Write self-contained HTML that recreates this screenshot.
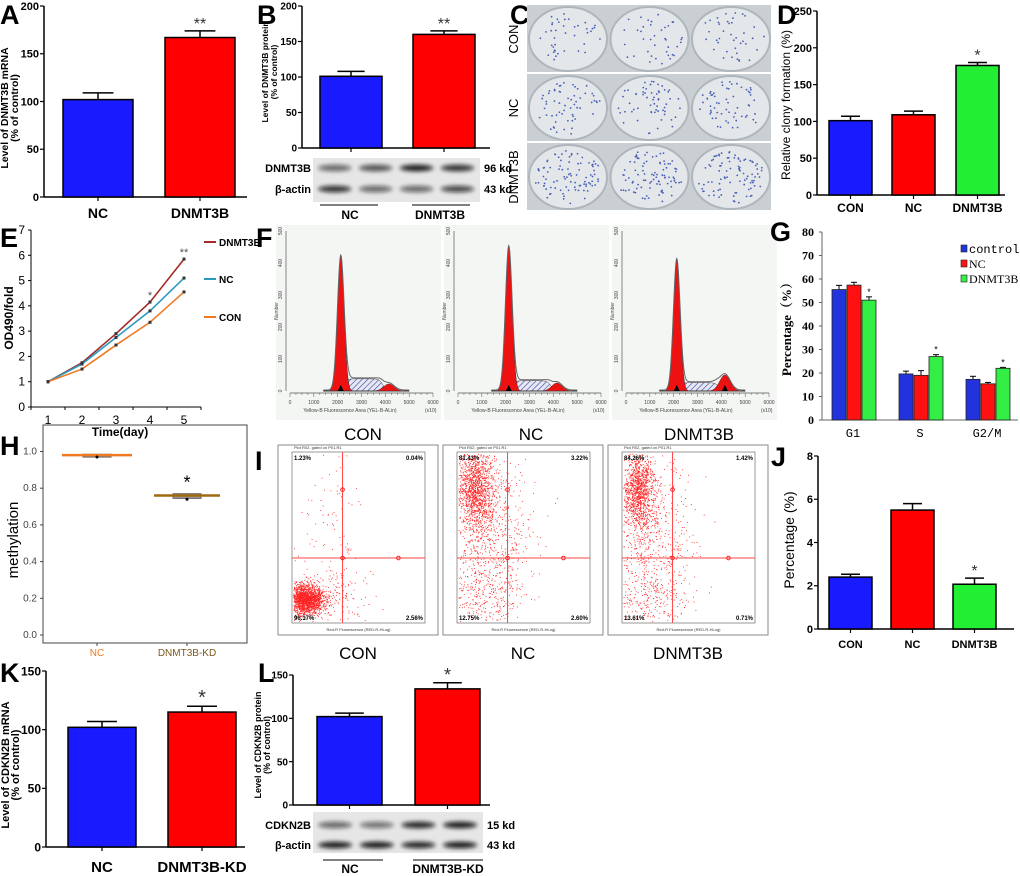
<!DOCTYPE html>
<html><head><meta charset="utf-8"><style>
html,body{margin:0;padding:0;background:#fff;width:1020px;height:876px;overflow:hidden}
svg{display:block;font-family:"Liberation Sans",sans-serif}
</style></head><body>
<svg id="fig" width="1020" height="876" viewBox="0 0 1020 876" xmlns="http://www.w3.org/2000/svg">
<defs>
<filter id="blur" x="-20%" y="-100%" width="140%" height="300%"><feGaussianBlur stdDeviation="2"/></filter>
<pattern id="hatch" width="4" height="4" patternUnits="userSpaceOnUse" patternTransform="rotate(45)"><rect width="4" height="4" fill="#e6e8f4"/><line x1="0" y1="0" x2="0" y2="4" stroke="#3b3f9c" stroke-width="1.2"/></pattern>
</defs>
</svg>
<script>
// ---- data ----
const aCats=["NC","DNMT3B"], aVals=[102,167], aErrs=[7,7], aStars=["","**"];
const bVals=[101,160], bErrs=[7,5], bStars=["","**"];
const dCats=["CON","NC","DNMT3B"], dVals=[101,109,176], dErrs=[6,5,4], dStars=["","","*"];
const eDays=[1,2,3,4,5];
const eDNMT3B=[1,1.75,2.9,4.15,5.85];
const eNC=[1,1.7,2.75,3.8,5.1];
const eCON=[1,1.5,2.45,3.35,4.55];
const gPhases=["G1","S","G2/M"];
const gControl=[55.5,19.6,17.3], gNC=[57.4,19,15.4], gDNMT3B=[51,27,22];
const gErrC=[1.8,1.2,1.3], gErrN=[1.2,2,0.6], gErrD=[1.4,0.8,0.4];
const hCats=["NC","DNMT3B-KD"], hMed=[0.98,0.76], hQ1=[0.975,0.75], hQ3=[0.985,0.77], hOut=[0.97,0.74];
const jCats=["CON","NC","DNMT3B"], jVals=[2.4,5.5,2.07], jErrs=[0.13,0.3,0.28], jStars=["","","*"];
const kCats=["NC","DNMT3B-KD"], kVals=[102,115], kErrs=[5,5], kStars=["","*"];
const lVals=[102,134], lErrs=[4,7], lStars=["","*"];
const fG1=[420,450,410], fG2=[22,25,50], fS=[38,32,26];
const iQuad=[["1.23%","0.04%","96.17%","2.56%"],["81.43%","3.22%","12.75%","2.60%"],["84.26%","1.42%","13.61%","0.71%"]];

const NS="http://www.w3.org/2000/svg";
const svg=document.getElementById('fig');
function mk(tag,attrs,parent){const e=document.createElementNS(NS,tag);for(const k in attrs)e.setAttribute(k,attrs[k]);(parent||svg).appendChild(e);return e;}
function txt(x,y,s,a,parent){const t=mk('text',Object.assign({x:x,y:y},a||{}),parent);t.textContent=s;return t;}
function grp(name){const g=mk('g',{});


return g;}

function panelLabel(ch,x,y){const t=txt(x,y,ch,{'font-size':27,'font-weight':'bold'});

}

function barChart(p){
 const g=grp(p.name);
 const sy=v=>p.y0-(v/p.max)*(p.y0-p.yTop);
 const ax=mk('line',{x1:p.ax,y1:p.yTop,x2:p.ax,y2:p.y0,stroke:'#000','stroke-width':1.5},g);
 
 
 const bx=mk('line',{x1:p.ax,y1:p.y0,x2:p.x1,y2:p.y0,stroke:'#000','stroke-width':1.5},g);
 
 
 p.ticks.forEach(t=>{const y=sy(t);
  mk('line',{x1:p.ax-4,y1:y,x2:p.ax,y2:y,stroke:'#000','stroke-width':1.2},g);
  const l=txt(p.ax-5,y+p.ts*0.36,String(t),{'font-size':p.ts,'font-weight':'bold','text-anchor':'end'},g);
  
  });
 p.vals.forEach((v,i)=>{const x=p.barX[i],w=p.barW,cx=x+w/2,y=sy(v),ye=sy(v+p.errs[i]);
  mk('line',{x1:cx,y1:y,x2:cx,y2:ye,stroke:'#000','stroke-width':1.5},g);
  mk('line',{x1:cx-w*0.22,y1:ye,x2:cx+w*0.22,y2:ye,stroke:'#000','stroke-width':1.5},g);
  const r=mk('rect',{x:x,y:y,width:w,height:p.y0-y,fill:p.colors[i],stroke:'#000','stroke-width':1.5},g);
  
  
  mk('line',{x1:cx,y1:p.y0,x2:cx,y2:p.y0+4,stroke:'#000','stroke-width':1.2},g);
  if(p.stars[i]){const s=txt(cx,ye-2,p.stars[i],{'font-size':p.ss||16,'text-anchor':'middle',fill:'#333'},g);
   
   }
  if(p.cats){const c=txt(cx,p.labelY,p.cats[i],{'font-size':p.ls,'font-weight':'bold','text-anchor':'middle'},g);
   
   }
 });
 p.title.forEach((s,k)=>{const tx=p.titleX+k*p.titleLH;
  const t=txt(tx,p.titleY,s,{'font-size':p.tsz,'font-weight':p.tw||'bold','text-anchor':'middle',transform:`rotate(-90 ${tx} ${p.titleY})`},g);
  
  });
}
const BL='#1a1aff',RD='#ff0000',GR='#22ee33';
// A
panelLabel('A',0,24);
barChart({name:'panel-a-chart',ax:44,x1:247,y0:197,yTop:6,max:200,ticks:[0,50,100,150,200],ts:11,vals:aVals,errs:aErrs,stars:aStars,cats:aCats,barX:[63,165],barW:70,colors:[BL,RD],labelY:218,ls:14,title:['Level of DNMT3B mRNA','(% of control)'],titleX:8,titleLH:10,titleY:108,tsz:10.5});
// B
panelLabel('B',257,24);
barChart({name:'panel-b-chart',ax:302,x1:490,y0:148,yTop:6,max:200,ticks:[0,50,100,150,200],ts:10,vals:bVals,errs:bErrs,stars:bStars,barX:[320,413],barW:62,colors:[BL,RD],title:['Level of DNMT3B protein','(% of control)'],titleX:268,titleLH:9,titleY:72,tsz:8.5});
function blot(name,x,y,w,h,rows,kd,strengths,ys){
 const g=grp(name);
 mk('rect',{x:x,y:y,width:w,height:h,fill:'#e6e6e6'},g);
 rows.forEach((r,ri)=>{
  const l=txt(x-2,ys[ri]+4,r,{'font-size':11,'font-weight':'bold','text-anchor':'end'},g);
  
  
  const k=txt(x+w+4,ys[ri]+4,kd[ri],{'font-size':11,'font-weight':'bold'},g);
  
  
  for(let j=0;j<4;j++){const cx=x+w*(0.13+0.245*j);
   const b=mk('ellipse',{cx:cx,cy:ys[ri],rx:w*0.1,ry:3.2,fill:'#111','fill-opacity':strengths[ri][j],filter:'url(#blur)'},g);
   
   }
 });
}
blot('panel-b-blot',313,158,167,44,['DNMT3B','β-actin'],['96 kd','43 kd'],[[0.6,0.7,0.95,0.85],[0.85,0.6,0.6,0.75]],[168,189]);
mk('line',{x1:320,y1:205,x2:378,y2:205,stroke:'#000'});mk('line',{x1:412,y1:205,x2:470,y2:205,stroke:'#000'});
[['NC',350],['DNMT3B',440]].forEach(a=>{const t=txt(a[1],219,a[0],{'font-size':12,'font-weight':'bold','text-anchor':'middle'});
 
 });
// C photos
panelLabel('C',510,24);
(function(){const g=grp('panel-c-colony-photos');let s=7;const rnd=()=>{s=(s*16807)%2147483647;return s/2147483647;};
 const rowsN=['CON','NC','DNMT3B'],dens=[40,60,90];
 for(let r=0;r<3;r++){const y=5+r*69;
  mk('rect',{x:527,y:y,width:244,height:67,fill:'#c9cfd3'},g);
  const lt=txt(518,y+34,rowsN[r],{'font-size':13,'text-anchor':'middle',transform:`rotate(-90 518 ${y+34})`},g);
  
  
  for(let c=0;c<3;c++){const cx=527+41+c*81.5,cy=y+34;
   const d=mk('ellipse',{cx:cx,cy:cy,rx:39,ry:32,fill:'#e3e7ea',stroke:'#aeb6bc','stroke-width':2},g);
   
   
   for(let k=0;k<dens[r];k++){const a=rnd()*6.283,rr=Math.sqrt(rnd())*0.9;
    mk('circle',{cx:cx+Math.cos(a)*rr*37,cy:cy+Math.sin(a)*rr*30,r:0.9,fill:'#4a5fb8'},g);}
  }}})();
// D
panelLabel('D',777,24);
barChart({name:'panel-d-chart',ax:817,x1:1005,y0:195,yTop:11,max:250,ticks:[0,50,100,150,200,250],ts:11,vals:dVals,errs:dErrs,stars:dStars,cats:dCats,barX:[829,892,956],barW:43,colors:[BL,RD,GR],labelY:212,ls:12,title:['Relative clony formation  (%)'],titleX:790,titleLH:0,titleY:105,tsz:12,tw:'normal'});
// E
panelLabel('E',0,247);
(function(){const g=grp('panel-e-line-chart');const ax=31,y0=407,yTop=230,ymax=7;
 const sx=d=>48+(d-1)*34, sy=v=>y0-v/ymax*(y0-yTop);
 mk('line',{x1:ax,y1:yTop,x2:ax,y2:y0,stroke:'#000'},g);mk('line',{x1:ax,y1:y0,x2:201,y2:y0,stroke:'#000'},g);
 for(let v=0;v<=7;v++){mk('line',{x1:ax-3,y1:sy(v),x2:ax,y2:sy(v),stroke:'#000'},g);
  const t=txt(ax-6,sy(v)+4,String(v),{'font-size':12,'text-anchor':'end'},g);
  
  }
 for(let x=48-17;x<=201;x+=34)mk('line',{x1:x,y1:y0,x2:x,y2:y0+3,stroke:'#000'},g);
 eDays.forEach(d=>{const t=txt(sx(d),y0+17,String(d),{'font-size':12,'text-anchor':'middle'},g);
  
  });
 const xt=txt(120,y0+29,'Time(day)',{'font-size':12,'font-weight':'bold','text-anchor':'middle'},g);
 
 
 const yt=txt(13,318,'OD490/fold',{'font-size':12,'font-weight':'bold','text-anchor':'middle',transform:'rotate(-90 13 318)'},g);
 
 
 const series=[['DNMT3B',eDNMT3B,'#a52a2a',242],['NC',eNC,'#2a9bbf',279],['CON',eCON,'#f07820',317]];
 series.forEach(s=>{const pl=mk('polyline',{points:s[1].map((v,i)=>sx(eDays[i])+','+sy(v)).join(' '),fill:'none',stroke:s[2],'stroke-width':1.6},g);
  
  
  s[1].forEach((v,i)=>mk('rect',{x:sx(eDays[i])-1.5,y:sy(v)-1.5,width:3,height:3,fill:'#333'},g));
  mk('line',{x1:204,y1:s[3],x2:216,y2:s[3],stroke:s[2],'stroke-width':2},g);
  const lt=txt(219,s[3]+4,s[0],{'font-size':10,'font-weight':'bold'},g);
  
  });
 txt(sx(4),sy(eDNMT3B[3])-3,'*',{'font-size':11,'text-anchor':'middle',fill:'#555'},g);
 txt(sx(5),sy(eDNMT3B[4])-3,'**',{'font-size':11,'text-anchor':'middle',fill:'#555'},g);
})();
// F histograms
panelLabel('F',256,247);
(function(){const names=['CON','NC','DNMT3B'];
 names.forEach((nm,pi)=>{const g=grp('flow-histogram-'+nm.toLowerCase());const ax=290+pi*168,base=391,top=231;
  const sx=c=>ax+c/6000*143, sy=v=>base-v/500*(base-top);
  mk('rect',{x:ax-14,y:top-6,width:165,height:195,fill:'#f4f6f4'},g);
  mk('line',{x1:ax-4,y1:top,x2:ax-4,y2:base,stroke:'#555','stroke-width':0.7},g);
  mk('line',{x1:ax,y1:base+2,x2:ax+143,y2:base+2,stroke:'#555','stroke-width':0.7},g);
  for(let c=0;c<=6000;c+=250)mk('line',{x1:sx(c),y1:base+2,x2:sx(c),y2:base+(c%1000?4:6),stroke:'#555','stroke-width':0.5},g);
  for(let c=0;c<=6000;c+=1000)txt(sx(c),base+13,String(c),{'font-size':5,'text-anchor':'middle',fill:'#444'},g);
  for(let v=0;v<=500;v+=100)txt(ax-8,sy(v),String(v),{'font-size':5,'text-anchor':'middle',fill:'#444',transform:`rotate(-90 ${ax-8} ${sy(v)})`},g);
  txt(ax+60,base+21,'Yellow-B Fluorescence Area (YEL-B-ALin)',{'font-size':5,'text-anchor':'middle',fill:'#444'},g);
  txt(ax+135,base+21,'(x10)',{'font-size':5,fill:'#444'},g);
  txt(ax-12,top+80,'Number',{'font-size':5,'text-anchor':'middle',fill:'#444',transform:`rotate(-90 ${ax-12} ${top+80})`},g);
  const gs=(c,m,sd)=>Math.exp(-0.5*((c-m)/sd)**2);
  let p1='',p2='',pt='',ps='';
  for(let c=1400;c<=5000;c+=25){const g1=fG1[pi]*gs(c,2130,140),g2=fG2[pi]*gs(c,4150,220);
   const sp=fS[pi]*(1/(1+Math.exp(-(c-2300)/60)))*(1/(1+Math.exp((c-3900)/80)));
   p1+=(p1?'L':'M')+sx(c)+','+sy(g1);p2+=(p2?'L':'M')+sx(c)+','+sy(g2);
   ps+=(ps?'L':'M')+sx(c)+','+sy(sp);pt+=(pt?'L':'M')+sx(c)+','+sy(g1+g2+sp+3);}
  const hs=mk('path',{d:ps+'Z',fill:'url(#hatch)',stroke:'#333','stroke-width':0.5},g);
  
  
  const r1=mk('path',{d:p1+'Z',fill:'#ee1111',stroke:'#333','stroke-width':0.5},g);
  
  
  const r2=mk('path',{d:p2+'Z',fill:'#ee1111',stroke:'#333','stroke-width':0.5},g);
  
  
  mk('path',{d:pt,fill:'none',stroke:'#666','stroke-width':1},g);
  mk('path',{d:`M${sx(2130)-3},${base}l3,-6l3,6z`,fill:'#000'},g);
  if(pi==2)mk('path',{d:`M${sx(4150)-3},${base}l3,-6l3,6z`,fill:'#000'},g);
  const lb=txt(ax+73,440,nm,{'font-size':17,'text-anchor':'middle'},g);
  
  
 });})();
// G grouped bars
panelLabel('G',770,241);
(function(){const g=grp('panel-g-chart');const ax=822,y0=420,yTop=232,max=80;const sy=v=>y0-v/max*(y0-yTop);
 mk('line',{x1:ax,y1:yTop,x2:ax,y2:y0,stroke:'#666'},g);mk('line',{x1:ax,y1:y0,x2:1018,y2:y0,stroke:'#666'},g);
 for(let v=0;v<=80;v+=10){mk('line',{x1:ax-3,y1:sy(v),x2:ax,y2:sy(v),stroke:'#666'},g);
  const t=txt(ax-8,sy(v)+4,String(v),{'font-size':12,'font-weight':'bold','text-anchor':'end','font-family':'Liberation Serif, serif'},g);
  
  }
 const yt=txt(791,326,'Percentage（%）',{'font-size':13,'font-weight':'bold','text-anchor':'middle','font-family':'Liberation Serif, Noto Serif CJK SC, serif',transform:'rotate(-90 791 326)'},g);
 
 
 const ser=[[gControl,gErrC,'#2233dd'],[gNC,gErrN,'#ff1111'],[gDNMT3B,gErrD,'#33ee44']];
 gPhases.forEach((ph,i)=>{const gx=832+i*67;
  ser.forEach((s,k)=>{const x=gx+k*15,v=s[0][i],y=sy(v),ye=sy(v+s[1][i]);
   mk('line',{x1:x+7,y1:y,x2:x+7,y2:ye,stroke:'#000'},g);mk('line',{x1:x+4,y1:ye,x2:x+10,y2:ye,stroke:'#000'},g);
   const r=mk('rect',{x:x,y:y,width:14,height:y0-y,fill:s[2],stroke:'#222','stroke-width':0.8},g);
   
   });
  txt(gx+37,sy(gDNMT3B[i]+gErrD[i])-2,'*',{'font-size':9,'text-anchor':'middle'},g);
  const l=txt(gx+21,437,ph,{'font-size':12,'text-anchor':'middle','font-family':'Liberation Mono, monospace'},g);
  
  });
 [['control','#2233dd'],['NC','#ff1111'],['DNMT3B','#33ee44']].forEach((e,k)=>{const y=249+k*15;
  mk('rect',{x:961,y:y-4,width:6,height:7,fill:e[1],stroke:'#222','stroke-width':0.6},g);
  const t=txt(969,y+4,e[0],{'font-size':12,'font-family':k==0?'Liberation Mono, monospace':'Liberation Serif, serif'},g);
  
  });
})();
// H box plot
panelLabel('H',0,455);
(function(){const g=grp('panel-h-boxplot');const y0=635,sy=v=>y0-v/0.2*36.7;
 mk('rect',{x:43,y:425,width:204,height:218,fill:'none',stroke:'#444'},g);
 [0,0.2,0.4,0.6,0.8,1.0].forEach(v=>{mk('line',{x1:40,y1:sy(v),x2:43,y2:sy(v),stroke:'#444'},g);
  const t=txt(37,sy(v)+3,v.toFixed(1),{'font-size':10,'text-anchor':'end',fill:'#444'},g);
  
  });
 const yt=txt(18,540,'methylation',{'font-size':15,'text-anchor':'middle',transform:'rotate(-90 18 540)'},g);
 
 
 const cx=[97,187],half=[35,33],cols=['#f07a20','#7a5a1a'];
 hCats.forEach((c,i)=>{mk('line',{x1:cx[i],y1:643,x2:cx[i],y2:646,stroke:'#444'},g);
  const l=txt(cx[i],656,c,{'font-size':10,'text-anchor':'middle',fill:cols[i]},g);
  
  
  mk('rect',{x:cx[i]-14,y:sy(hQ3[i]),width:28,height:sy(hQ1[i])-sy(hQ3[i])+1,fill:'#999',stroke:'#666'},g);
  const m=mk('line',{x1:cx[i]-half[i],y1:sy(hMed[i]),x2:cx[i]+half[i],y2:sy(hMed[i]),stroke:i?'#a06a10':'#f07a20','stroke-width':2.5},g);
  
  
  mk('circle',{cx:cx[i],cy:sy(hOut[i]),r:1.5,fill:'#000'},g);});
 txt(187,sy(hQ3[1])+1-6,'*',{'font-size':18,'text-anchor':'middle'},g);
})();
// I flow dot plots
panelLabel('I',255,470);
(function(){let s=12345;const rnd=()=>{s=(s*16807)%2147483647;return s/2147483647;};
 const gau=()=>{let u=rnd()||1e-9,v=rnd();return Math.sqrt(-2*Math.log(u))*Math.cos(6.283*v);};
 const clusters=[[[0.5,0.7,0.35,0.22,1800],[1.2,3.0,0.7,0.9,70],[1.7,0.8,0.7,0.5,150]],
  [[0.7,3.9,0.35,0.6,1300],[1.2,2.5,0.8,1.2,700],[1.0,0.7,0.7,0.5,250]],
  [[0.6,3.9,0.3,0.55,1100],[1.1,2.5,0.8,1.3,700],[1.0,0.6,0.7,0.5,200]]];
 const names=['CON','NC','DNMT3B'];
 names.forEach((nm,pi)=>{const g=grp('flow-dotplot-'+nm.toLowerCase());const fx=278+pi*165;
  const L=fx+14,R=fx+147,T=452,B=623;const sx=d=>L+d/5*(R-L),sy=d=>B-d/5*(B-T);
  mk('rect',{x:fx,y:445,width:160,height:190,fill:'#fff',stroke:'#888'},g);
  mk('rect',{x:L,y:T,width:R-L,height:B-T,fill:'none',stroke:'#555','stroke-width':0.6},g);
  clusters[pi].forEach(c=>{for(let k=0;k<c[4];k++){const x=c[0]+gau()*c[2],y=c[1]+gau()*c[3];
   if(x<0.05||x>4.95||y<0.05||y>4.95)continue;
   mk('rect',{x:sx(x),y:sy(y),width:0.9,height:0.9,fill:'#f22'},g);}});
  const vx=sx(1.9),hy=sy(1.9);
  mk('line',{x1:vx,y1:T,x2:vx,y2:B,stroke:'#f44'},g);mk('line',{x1:L,y1:hy,x2:R,y2:hy,stroke:'#f44'},g);
  mk('circle',{cx:vx,cy:hy,r:1.8,fill:'none',stroke:'#f22'},g);mk('circle',{cx:sx(4),cy:hy,r:1.8,fill:'none',stroke:'#f22'},g);
  mk('circle',{cx:vx,cy:sy(3.9),r:1.8,fill:'none',stroke:'#f22'},g);
  txt(vx+4,hy-7,'R2',{'font-size':4,fill:'#f22'},g);
  const q=iQuad[pi];
  [[L+2,T+8,q[0],'start'],[R-2,T+8,q[1],'end'],[L+2,B-3,q[2],'start'],[R-2,B-3,q[3],'end']].forEach(a=>{
   const t=txt(a[0],a[1],a[2],{'font-size':6,'font-weight':'bold','text-anchor':a[3]},g);
   
   });
  txt(L+2,449,'Plot R02, gated on P01.R1',{'font-size':4,fill:'#333'},g);
  txt((L+R)/2,631,'Red-R Fluorescence (RED-R-HLog)',{'font-size':4,'text-anchor':'middle',fill:'#333'},g);
  const lb=txt(fx+80,659,nm,{'font-size':17,'text-anchor':'middle'},g);
  
  
 });})();
// J
panelLabel('J',771,466);
barChart({name:'panel-j-chart',ax:818,x1:1014,y0:629,yTop:456,max:8,ticks:[0,2,4,6,8],ts:11,vals:jVals,errs:jErrs,stars:jStars,cats:jCats,barX:[829,891,953],barW:43,colors:[BL,RD,GR],labelY:648,ls:11,title:['Percentage (%)'],titleX:794,titleLH:0,titleY:540,tsz:14,tw:'normal'});
// K
panelLabel('K',0,682);
barChart({name:'panel-k-chart',ax:46,x1:245,y0:847,yTop:671,max:150,ticks:[0,50,100,150],ts:12,vals:kVals,errs:kErrs,stars:kStars,cats:kCats,barX:[68,168],barW:68,colors:[BL,RD],labelY:872,ls:15,ss:20,title:['Level of CDKN2B mRNA','(% of control)'],titleX:9,titleLH:10,titleY:765,tsz:11});
// L
panelLabel('L',258,682);
barChart({name:'panel-l-chart',ax:293,x1:490,y0:805,yTop:675,max:150,ticks:[0,50,100,150],ts:10,vals:lVals,errs:lErrs,stars:lStars,barX:[317,415],barW:65,colors:[BL,RD],ss:18,title:['Level of CDKN2B protein','(% of control)'],titleX:261,titleLH:9,titleY:745,tsz:9});
blot('panel-l-blot',313,812,170,41,['CDKN2B','β-actin'],['15 kd','43 kd'],[[0.6,0.55,0.9,0.95],[0.95,0.95,0.9,0.95]],[825,845]);
mk('line',{x1:323,y1:860,x2:383,y2:860,stroke:'#000'});mk('line',{x1:413,y1:860,x2:483,y2:860,stroke:'#000'});
[['NC',350],['DNMT3B-KD',448]].forEach(a=>{const t=txt(a[1],873,a[0],{'font-size':12,'font-weight':'bold','text-anchor':'middle'});
 
 });
</script>
</body></html>
